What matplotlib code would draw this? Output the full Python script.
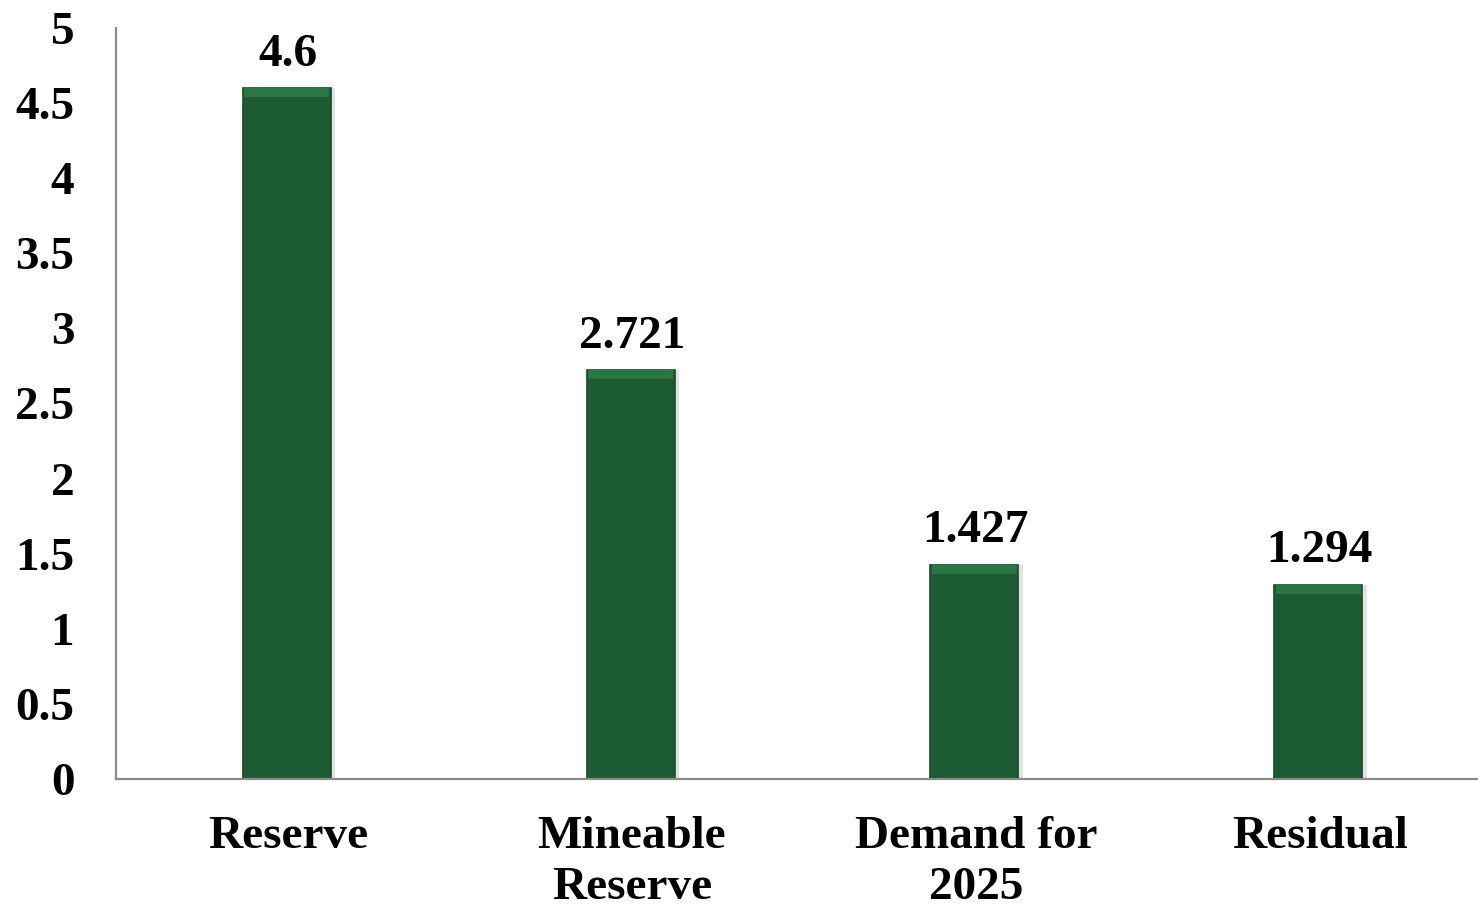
import matplotlib.pyplot as plt
import numpy as np

# --- data ---
categories = ["Reserve", "Mineable\nReserve", "Demand for\n2025", "Residual"]
values = [4.6, 2.721, 1.427, 1.294]
value_labels = ["4.6", "2.721", "1.427", "1.294"]
yticks = [0, 0.5, 1, 1.5, 2, 2.5, 3, 3.5, 4, 4.5, 5]
ytick_labels = ["0", "0.5", "1", "1.5", "2", "2.5", "3", "3.5", "4", "4.5", "5"]

plt.rcParams['font.family'] = ['Liberation Serif', 'DejaVu Serif']
plt.rcParams['font.weight'] = 'bold'

fig = plt.figure(figsize=(14.78, 9.10), dpi=100)
ax = fig.add_axes([116 / 1478, 1 - 779 / 910, (1478 - 116) / 1478, (779 - 28) / 910])

x = np.arange(len(categories))
bar_w = 0.256
fs = 34

# soft shadow behind bars
ax.bar(x + 0.004, values, width=bar_w + 0.012, color='#cfcfcf', zorder=1, alpha=0.6)
# main bars
ax.bar(x - 0.004, values, width=bar_w, color='#1d5b32', edgecolor='#174a29', linewidth=1.2, zorder=2)
# bevel highlight on top of each bar
hl = 0.06
ax.bar(x - 0.004, [hl] * len(values), bottom=[v - hl for v in values], width=bar_w * 0.96,
       color='#2c7544', linewidth=0, zorder=3)

for xi, v, lab in zip(x, values, value_labels):
    ax.annotate(lab, (xi, v), xytext=(0, 9), textcoords='offset points',
                ha='center', va='bottom', fontsize=fs, fontweight='bold', color='black')

ax.set_xlim(-0.5, 3.46)
ax.set_ylim(0, 5)
ax.set_xticks(x)
ax.set_xticklabels(categories, fontsize=fs, fontweight='bold', linespacing=1.28)
ax.set_yticks(yticks)
ax.set_yticklabels(ytick_labels, fontsize=fs, fontweight='bold')
ax.tick_params(axis='both', length=0)
ax.tick_params(axis='x', pad=27)
ax.tick_params(axis='y', pad=30)

for s in ['top', 'right']:
    ax.spines[s].set_visible(False)
for s in ['left', 'bottom']:
    ax.spines[s].set_color('#8c8c8c')
    ax.spines[s].set_linewidth(1.6)

fig.savefig('out.png', dpi=100)
